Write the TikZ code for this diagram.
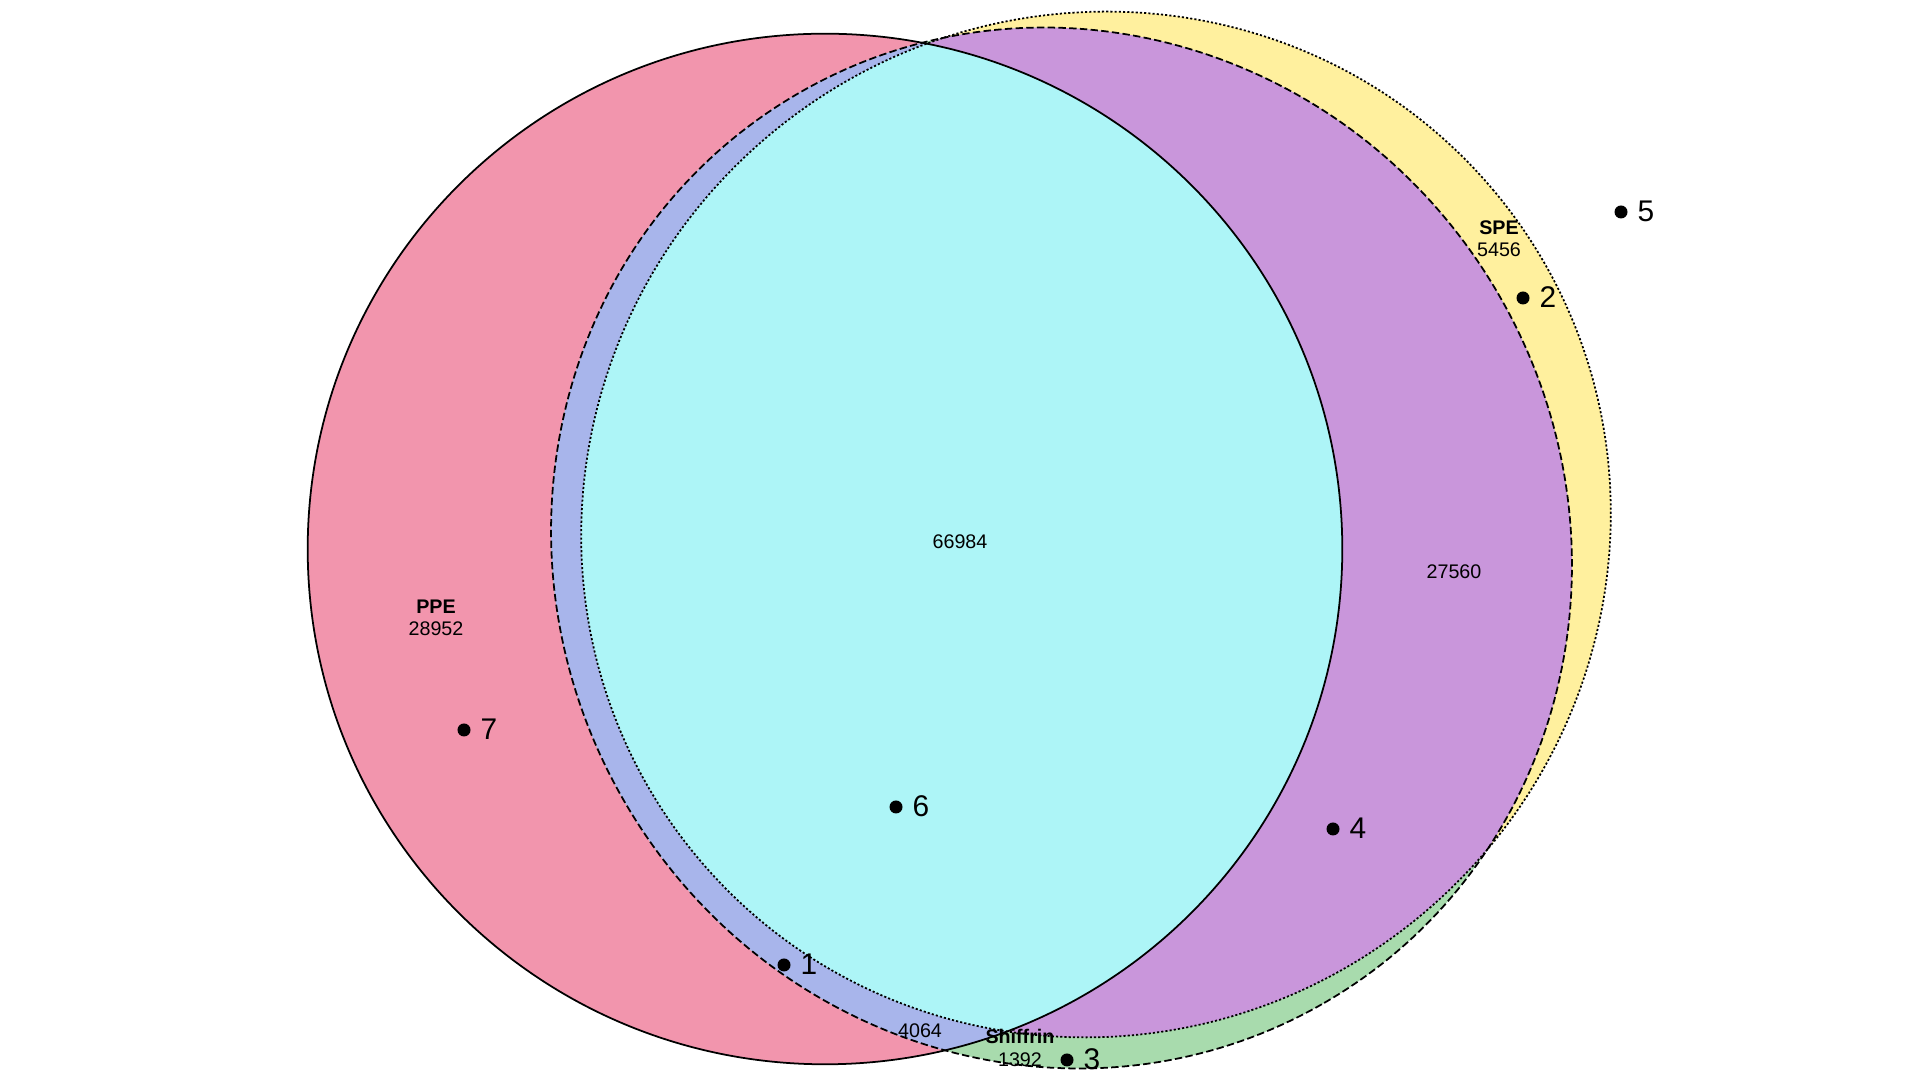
\documentclass[tikz,border=0pt]{standalone}
\usepackage{fontspec}
\setmainfont{Liberation Sans}
\definecolor{cPink}{RGB}{242,149,173}
\definecolor{cYellow}{RGB}{255,240,158}
\definecolor{cGreen}{RGB}{168,219,173}
\definecolor{cPurple}{RGB}{201,150,219}
\definecolor{cBlue}{RGB}{168,181,235}
\definecolor{cCyan}{RGB}{173,245,247}
\begin{document}
\begin{tikzpicture}[x=0.01cm,y=-0.01cm,
  regionlabel/.style={font=\fontsize{5.6}{6.3}\selectfont, align=center, inner sep=0pt},
  ptlabel/.style={font=\fontsize{8.5}{10}\selectfont, inner sep=0pt},
  ptdot/.style={circle, fill=black, inner sep=0pt, minimum size=0.13cm},
  sperot/.style={rotate around={40:(cSPE)}},
  shirot/.style={rotate around={-60:(cSHI)}},
  ppeline/.style={draw=black, line width=0.5pt},
  speline/.style={draw=black, line width=0.5pt, dash pattern=on 0.6pt off 0.6pt},
  shiline/.style={draw=black, line width=0.5pt, dash pattern=on 2.1pt off 0.95pt}]
\useasboundingbox (0,0) rectangle (1920,1080);
\coordinate (cPPE) at (825,549);
\coordinate (cSPE) at (1096,524.5);
\coordinate (cSHI) at (1061.5,548);
\def\PPEshape{(cPPE) ellipse[x radius=5.17cm, y radius=5.15cm]}
\def\SPEshape{(cSPE) ellipse[x radius=5.19cm, y radius=5.08cm]}
\def\SHIshape{(cSHI) ellipse[x radius=5.25cm, y radius=5.05cm]}
% regions
\fill[cYellow, sperot] \SPEshape;
\fill[cPink] \PPEshape;
\fill[cGreen, shirot] \SHIshape;
\begin{scope}
  \clip[sperot] \SPEshape;
  \fill[cPurple, shirot] \SHIshape;
\end{scope}
\begin{scope}
  \clip \PPEshape;
  \fill[cBlue, shirot] \SHIshape;
\end{scope}
\begin{scope}
  \clip \PPEshape;
  \clip[sperot] \SPEshape;
  \fill[cCyan, shirot] \SHIshape;
\end{scope}
% outlines
\path[ppeline] \PPEshape;
\path[speline, sperot] \SPEshape;
\path[shiline, shirot] \SHIshape;
% region labels
\node[regionlabel] (lPPE) at (436,618) {\textbf{PPE}\\28952};
\node[regionlabel] (lSPE) at (1499,239) {\textbf{SPE}\\5456};
\node[regionlabel] (lSHI) at (1020,1048) {\textbf{Shiffrin}\\1392};
\node[regionlabel] (l4064) at (920,1031) {4064};
\node[regionlabel] (l27560) at (1454,572) {27560};
\node[regionlabel] (l66984) at (960,542) {66984};
% points
\node[ptdot] (p1) at (784,965) {};
\node[ptlabel] (t1) at (809,964) {1};
\node[ptdot] (p2) at (1523,298) {};
\node[ptlabel] (t2) at (1548,297) {2};
\node[ptdot] (p3) at (1067,1060) {};
\node[ptlabel] (t3) at (1092,1059) {3};
\node[ptdot] (p4) at (1333,829) {};
\node[ptlabel] (t4) at (1358,828) {4};
\node[ptdot] (p5) at (1621,212) {};
\node[ptlabel] (t5) at (1646,211) {5};
\node[ptdot] (p6) at (896,807) {};
\node[ptlabel] (t6) at (921,806) {6};
\node[ptdot] (p7) at (464,730) {};
\node[ptlabel] (t7) at (489,729) {7};
\end{tikzpicture}
\end{document}
